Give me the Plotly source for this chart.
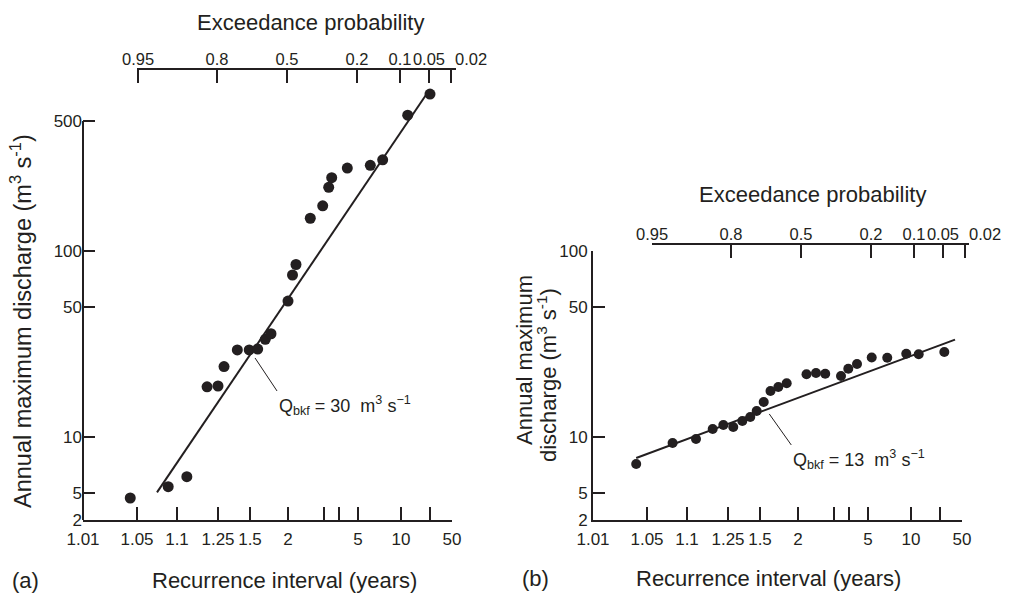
import numpy as np
import plotly.graph_objects as go

# ---------------- axis definitions (probability paper) ----------------
T_TICKS = [1.01, 1.05, 1.1, 1.25, 1.5, 2, 3, 4, 5, 10, 20, 50]
T_TICK_TEXT = ["1.01", "1.05", "1.1", "1.25", "1.5", "2", "", "", "5", "10", "", "50"]
SCALE_POS = [0, 54, 94, 135, 167, 205, 241, 256, 275, 318, 347, 369]  # probability-paper scale units

EXCEED_P = [0.95, 0.8, 0.5, 0.2, 0.1, 0.05, 0.02]
EXCEED_TEXT = ["0.95", "0.8", "0.5", "0.2", "0.1", "0.05", "0.02"]

Y_TICKS_A = [5, 10, 50, 100, 500]
Y_TICKS_B = [5, 10, 50, 100]
Y_BREAK_LABEL = "2"

# ---------------- data: panel (a) ----------------
T_A = [1.045, 1.089, 1.136, 1.210, 1.25, 1.297, 1.401, 1.494, 1.601, 1.701, 1.776, 2.0,
       2.125, 2.222, 2.619, 2.964, 3.313, 3.513, 4.437, 6.43, 7.87, 12.31, 20.0]
Q_A = [4.70, 5.41, 6.12, 18.6, 18.8, 23.9, 29.4, 29.4, 29.7, 33.5, 35.9, 53.8,
       74.3, 84.6, 150, 175, 220, 248, 279, 289, 309, 537, 698]
FIT_T_A = [1.075, 18.6]
FIT_Q_A = [5.04, 690]
QBKF_A = 30
LEADER_T_A, LEADER_Q_A = 1.566, 26.6

# ---------------- data: panel (b) ----------------
T_B = [1.042, 1.082, 1.133, 1.194, 1.233, 1.291, 1.362, 1.424, 1.474, 1.549, 1.638, 1.741,
       1.851, 2.236, 2.5, 2.756, 3.467, 3.953, 4.421, 5.43, 7.24, 9.45, 12.66, 25.9]
Q_B = [7.16, 9.29, 9.75, 11.04, 11.60, 11.32, 12.19, 12.81, 13.8, 15.43, 17.67, 18.57,
       19.44, 21.74, 22.08, 21.89, 21.28, 23.29, 24.68, 26.76, 26.66, 28.04, 27.87, 28.64]
FIT_T_B = [1.042, 40.5]
FIT_Q_B = [7.71, 33.4]
QBKF_B = 13
LEADER_T_B, LEADER_Q_B = 1.622, 13.3


def prob_scale(T):
    return np.interp(np.asarray(T, dtype=float), T_TICKS, SCALE_POS)


# ---------------- geometry ----------------
W, H = 1009, 595
INK = "#231f20"
FONT = "Liberation Sans, Arial, Helvetica, sans-serif"


def fx(px):
    return px / W


def fy(py):
    return 1 - py / H


PX_PER_DEC = 186.0
Y_LOG_MIN = 1 - (520 - 437) / PX_PER_DEC
Y_RANGE_A = [Y_LOG_MIN, Y_LOG_MIN + (520 - 85) / PX_PER_DEC]
Y_RANGE_B = [Y_LOG_MIN, 2.0]
Y_TOP_B_PX = 520 - (Y_RANGE_B[1] - Y_RANGE_B[0]) * PX_PER_DEC

fig = go.Figure()

# panel (a)
fig.add_trace(go.Scatter(x=prob_scale(FIT_T_A), y=FIT_Q_A, mode="lines",
                         line=dict(color=INK, width=2), xaxis="x", yaxis="y",
                         hoverinfo="skip", showlegend=False))
fig.add_trace(go.Scatter(x=prob_scale(T_A), y=Q_A, mode="markers",
                         marker=dict(color=INK, size=11), cliponaxis=False,
                         xaxis="x", yaxis="y", showlegend=False))
# panel (b)
fig.add_trace(go.Scatter(x=prob_scale(FIT_T_B), y=FIT_Q_B, mode="lines",
                         line=dict(color=INK, width=2), xaxis="x2", yaxis="y2",
                         hoverinfo="skip", showlegend=False))
fig.add_trace(go.Scatter(x=prob_scale(T_B), y=Q_B, mode="markers",
                         marker=dict(color=INK, size=10), cliponaxis=False,
                         xaxis="x2", yaxis="y2", showlegend=False))

# invisible carriers for the exceedance-probability axes
top_pos = prob_scale([1 / p for p in EXCEED_P])
fig.add_trace(go.Scatter(x=top_pos, y=[10 ** Y_LOG_MIN] * len(top_pos), mode="markers",
                         marker=dict(opacity=0), xaxis="x3", yaxis="y",
                         hoverinfo="skip", showlegend=False))
fig.add_trace(go.Scatter(x=top_pos, y=[10 ** Y_LOG_MIN] * len(top_pos), mode="markers",
                         marker=dict(opacity=0), xaxis="x4", yaxis="y2",
                         hoverinfo="skip", showlegend=False))

# the last exceedance label sits to the right of its tick in the original -> drawn separately
top_text = EXCEED_TEXT[:-1] + [""]

tickfont = dict(family=FONT, size=17, color=INK)
common_x = dict(showgrid=False, zeroline=False, showline=True, linecolor=INK, linewidth=2,
                ticks="inside", ticklen=13, tickwidth=1.6, tickcolor=INK,
                tickvals=prob_scale(T_TICKS), ticktext=T_TICK_TEXT, tickangle=0,
                tickfont=tickfont, range=[0, 369], fixedrange=True, ticklabelstandoff=3)
common_y = dict(type="log", showgrid=False, zeroline=False, linecolor=INK, linewidth=2,
                ticks="inside", ticklen=12, tickwidth=1.6, tickcolor=INK,
                tickfont=tickfont, fixedrange=True)
TOP_FONT = dict(family=FONT, size=16.5, color=INK)
common_top = dict(showgrid=False, zeroline=False, showline=True, linecolor=INK, linewidth=2,
                  ticks="inside", ticklen=13, tickwidth=1.6, tickcolor=INK, side="top",
                  anchor="free", tickvals=top_pos, ticktext=top_text, tickangle=0,
                  tickfont=TOP_FONT, fixedrange=True, ticklabelstandoff=-4)

fig.update_layout(
    width=W, height=H, margin=dict(l=0, r=0, t=0, b=0, pad=0, autoexpand=False),
    paper_bgcolor="white", plot_bgcolor="rgba(0,0,0,0)",
    font=dict(family=FONT, color=INK),
    showlegend=False,
    xaxis=dict(domain=[fx(83), fx(452)], anchor="y", **common_x),
    yaxis=dict(domain=[fy(520), fy(85)], anchor="x", range=Y_RANGE_A, showline=False,
               tickvals=[10 ** Y_LOG_MIN] + Y_TICKS_A,
               ticktext=[Y_BREAK_LABEL] + [str(v) for v in Y_TICKS_A], **common_y),
    xaxis2=dict(domain=[fx(593), fx(962)], anchor="y2", **common_x),
    yaxis2=dict(domain=[fy(520), fy(Y_TOP_B_PX)], anchor="x2", range=Y_RANGE_B, showline=True,
                tickvals=[10 ** Y_LOG_MIN] + Y_TICKS_B,
                ticktext=[Y_BREAK_LABEL] + [str(v) for v in Y_TICKS_B], **common_y),
    xaxis3=dict(domain=[fx(137), fx(456)], range=[55, 374], position=fy(69), **common_top),
    xaxis4=dict(domain=[fx(652), fx(969)], range=[56, 373], position=fy(244), **common_top),
)

# "0.02" labels placed just right of their ticks
for xr, line_py in (("x3", 69), ("x4", 244)):
    fig.add_annotation(text=EXCEED_TEXT[-1], x=float(top_pos[-1]), xref=xr,
                       y=fy(line_py - 10), yref="paper", showarrow=False,
                       xanchor="left", yanchor="middle", xshift=2, font=TOP_FONT)

# y-axis line of panel (a) stops at 500
y_top_frac = (np.log10(500) - Y_RANGE_A[0]) / (Y_RANGE_A[1] - Y_RANGE_A[0])
fig.add_shape(type="line", xref="x domain", yref="y domain", x0=0, x1=0, y0=0, y1=y_top_frac,
              line=dict(color=INK, width=2))


def paper_text(text, px, py, size=22, angle=0):
    fig.add_annotation(text=text, x=fx(px), y=fy(py), xref="paper", yref="paper",
                       showarrow=False, xanchor="center", yanchor="middle", textangle=angle,
                       font=dict(family=FONT, size=size, color=INK))


paper_text("Exceedance probability", 310, 23)
paper_text("Exceedance probability", 812, 195)
paper_text("Recurrence interval (years)", 284, 580)
paper_text("Recurrence interval (years)", 768, 578)
paper_text("(a)", 25, 580)
paper_text("(b)", 535, 578)
paper_text("Annual maximum discharge (m<sup>3</sup> s<sup>-1</sup>)", 21, 321, size=23.5, angle=-90)
paper_text("Annual maximum", 524, 360, angle=-90)
paper_text("discharge (m<sup>3</sup> s<sup>-1</sup>)", 547, 375, angle=-90)

# bankfull discharge labels
fig.add_annotation(x=float(prob_scale(LEADER_T_A)), y=np.log10(LEADER_Q_A), xref="x", yref="y",
                   text=f"Q<sub>bkf</sub> = {QBKF_A}  m<sup>3</sup> s<sup>\u22121</sup>",
                   showarrow=True, arrowhead=0, arrowwidth=1, arrowcolor=INK,
                   ax=22, ay=33, xanchor="left", yanchor="top",
                   font=dict(family=FONT, size=18, color=INK))
fig.add_annotation(x=float(prob_scale(LEADER_T_B)), y=np.log10(LEADER_Q_B), xref="x2", yref="y2",
                   text=f"Q<sub>bkf</sub> = {QBKF_B}  m<sup>3</sup> s<sup>\u22121</sup>",
                   showarrow=True, arrowhead=0, arrowwidth=1, arrowcolor=INK,
                   ax=22, ay=31, xanchor="left", yanchor="top",
                   font=dict(family=FONT, size=18, color=INK))

fig.write_html("out.html", config={"displayModeBar": False},
               post_script="document.body.style.margin='0px';")
